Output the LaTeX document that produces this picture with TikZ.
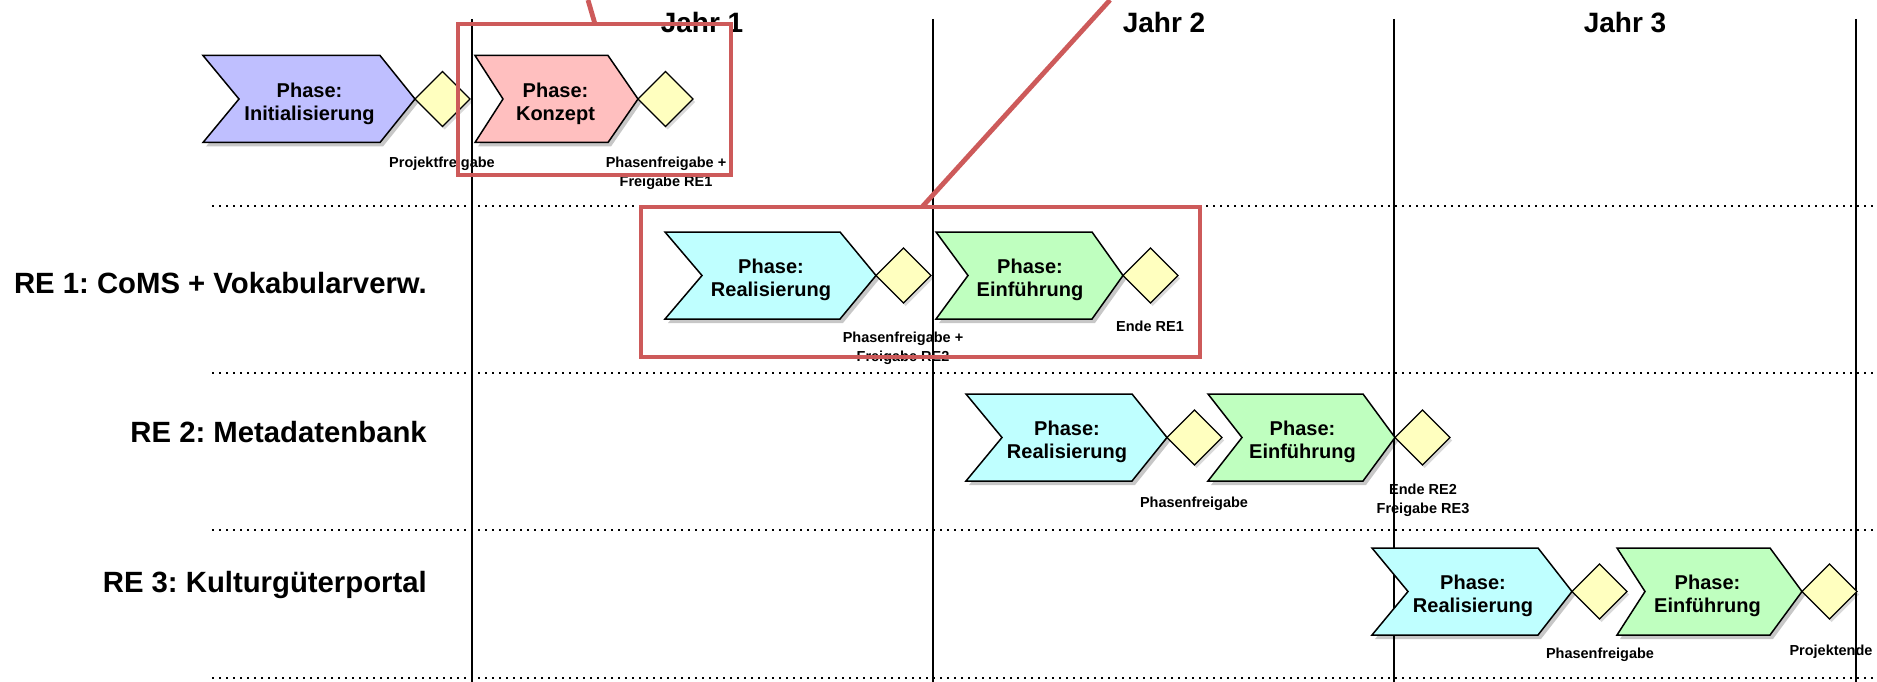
\documentclass[tikz,border=0pt]{standalone}
\usepackage{fontspec}
\setmainfont{Liberation Sans}
\frenchspacing
\usetikzlibrary{shapes.geometric,shadows,calc}
\definecolor{cInit}{RGB}{191,191,255}
\definecolor{cKonz}{RGB}{255,191,191}
\definecolor{cReal}{RGB}{191,255,255}
\definecolor{cEinf}{RGB}{191,255,191}
\definecolor{cDia}{RGB}{255,255,191}
\definecolor{cRed}{RGB}{205,90,90}
\tikzset{
  chev/.style={draw=black, line width=1.5pt, line join=miter,
    drop shadow={shadow xshift=3pt, shadow yshift=-4pt, opacity=0.22, fill=black}},
  chevtext/.style={anchor=north, inner sep=0pt, align=center,
    font=\fontsize{20}{23}\selectfont\bfseries},
  dia/.style={diamond, draw=black, line width=1.3pt, fill=cDia, minimum width=55pt,
    minimum height=55pt, inner sep=0pt, outer sep=0pt,
    drop shadow={shadow xshift=2pt, shadow yshift=-3pt, opacity=0.15, fill=black}},
  lbl/.style={anchor=north, inner sep=0pt, align=center,
    font=\fontsize{14.5}{19}\selectfont\bfseries},
  rowlbl/.style={anchor=north east, inner sep=0pt,
    font=\fontsize{29.3}{31}\selectfont\bfseries},
  yearlbl/.style={anchor=north, inner sep=0pt,
    font=\fontsize{28}{30}\selectfont\bfseries},
  sep/.style={line width=1.2pt, dash pattern=on 2pt off 5pt},
  yearline/.style={line width=1.3pt},
  redbox/.style={draw=cRed, line width=4.8pt, inner sep=0pt, outer sep=0pt},
  redline/.style={draw=cRed, line width=4.8pt},
}
\newcommand\mychev[8]{%
  \path[chev, fill=#7] (#2,#6-43.5) -- (#4,#6-43.5) -- (#5,#6) -- (#4,#6+43.5)
    -- (#2,#6+43.5) -- (#3,#6) -- cycle;
  \node[chevtext] (#1) at ({(#3+#4)/2},#6-16.5) {Phase:\\#8};
}
\begin{document}
\begin{tikzpicture}[x=1pt,y=-1pt]
\useasboundingbox[fill=white] (0,0) rectangle (1877,682);

% row separators
\foreach \yy/\nm in {206/s1,373/s2,530/s3,678/s4}{
  \coordinate (\nm a) at (212,\yy);
  \coordinate (\nm b) at (1877,\yy);
  \draw[sep] (\nm a) -- (\nm b);
}
% year lines
\foreach \xx/\nm in {472/v1,933/v2,1394/v3,1856/v4}{
  \coordinate (\nm a) at (\xx,19);
  \coordinate (\nm b) at (\xx,682);
  \draw[yearline] (\nm a) -- (\nm b);
}

% year labels
\node[yearlbl] (j1) at (702,12) {Jahr 1};
\node[yearlbl] (j2) at (1164,12) {Jahr 2};
\node[yearlbl] (j3) at (1625,12) {Jahr 3};

% row labels
\node[rowlbl] (re1) at (427,272) {RE 1: CoMS + Vokabularverw.};
\node[rowlbl] (re2) at (427,421) {RE 2: Metadatenbank};
\node[rowlbl] (re3) at (427,571) {RE 3: Kulturgüterportal};

% row 0
\mychev{init}{203}{239}{380}{415}{99}{cInit}{Initialisierung}
\node[dia] (d01) at (442.5,99) {};
\mychev{konz}{475}{503}{608}{638}{99}{cKonz}{Konzept}
\node[dia] (d02) at (665.5,99) {};
\node[lbl] (l01) at (442,157) {Projektfreigabe};
\node[lbl] (l02) at (666,157) {Phasenfreigabe +\\Freigabe RE1};

% row 1
\mychev{real1}{665}{702}{840}{876}{275.5}{cReal}{Realisierung}
\node[dia] (d11) at (903.5,275.5) {};
\mychev{einf1}{936}{968}{1092}{1123}{275.5}{cEinf}{Einführung}
\node[dia] (d12) at (1150.5,275.5) {};
\node[lbl] (l11) at (903,332) {Phasenfreigabe +\\Freigabe RE2};
\node[lbl] (l12) at (1150,321) {Ende RE1};

% row 2
\mychev{real2}{966}{1002}{1132}{1167}{437.5}{cReal}{Realisierung}
\node[dia] (d21) at (1194.5,437.5) {};
\mychev{einf2}{1208}{1242}{1363}{1395}{437.5}{cEinf}{Einführung}
\node[dia] (d22) at (1422.5,437.5) {};
\node[lbl] (l21) at (1194,497) {Phasenfreigabe};
\node[lbl] (l22) at (1423,484) {Ende RE2\\Freigabe RE3};

% row 3
\mychev{real3}{1372}{1408}{1538}{1572}{591.5}{cReal}{Realisierung}
\node[dia] (d31) at (1599.5,591.5) {};
\mychev{einf3}{1617}{1645}{1770}{1802}{591.5}{cEinf}{Einführung}
\node[dia] (d32) at (1829.5,591.5) {};
\node[lbl] (l31) at (1600,648) {Phasenfreigabe};
\node[lbl] (l32) at (1831,645) {Projektende};

% red highlight boxes and callout lines
\node[redbox, minimum width=273pt, minimum height=151pt] (box1) at (594.5,99.5) {};
\node[redbox, minimum width=559pt, minimum height=150pt] (box2) at (920.5,282) {};
\coordinate (r1a) at (588,0);
\coordinate (r1x) at (595,0);
\draw[redline] (r1a) -- (r1x |- box1.north);
\coordinate (r2a) at (1110,0);
\coordinate (r2x) at (922,0);
\draw[redline] (r2a) -- (r2x |- box2.north);
\end{tikzpicture}
\end{document}
